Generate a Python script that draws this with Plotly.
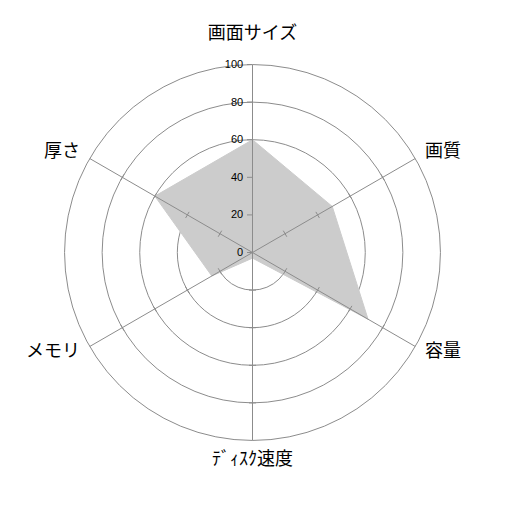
import plotly.graph_objects as go

# categories (clockwise from top) and scores
categories = ["画面サイズ", "画質", "容量", "ﾃﾞｨｽｸ速度", "メモリ", "厚さ"]
scores = [60, 49, 71, 3, 25, 60]
radial_ticks = [0, 20, 40, 60, 80, 100]
spoke_ticks = [20, 40, 60, 80]
label_r = [111, 106, 106, 106, 106, 106]
label_pos = ["top center", "middle right", "middle right",
             "bottom center", "middle left", "middle left"]

fig = go.Figure()

# filled polygon
fig.add_trace(go.Scatterpolar(
    r=scores + scores[:1], theta=categories + categories[:1],
    mode="lines", fill="toself", fillcolor="#cccccc",
    line=dict(color="#cccccc", width=1), hoverinfo="skip", showlegend=False))

# spokes drawn above the fill, with small ticks
for i, cat in enumerate(categories):
    fig.add_trace(go.Scatterpolar(
        r=[0, 100], theta=[cat, cat], mode="lines",
        line=dict(color="#8c8c8c", width=1), hoverinfo="skip", showlegend=False))
    if i == 0:
        continue
    fig.add_trace(go.Scatterpolar(
        r=spoke_ticks, theta=[cat] * len(spoke_ticks), mode="markers",
        marker=dict(symbol="line-ns", size=5, angle=i * 60 + 90,
                    line=dict(color="#8c8c8c", width=1)),
        hoverinfo="skip", showlegend=False))

# category labels just outside the outer ring
fig.add_trace(go.Scatterpolar(
    r=label_r, theta=categories, mode="text",
    text=categories, textposition=label_pos, cliponaxis=False,
    textfont=dict(family="Noto Sans CJK JP", size=18, color="black"),
    hoverinfo="skip", showlegend=False))

fig.update_layout(
    width=506, height=506,
    margin=dict(l=34, r=51, t=34, b=51),
    paper_bgcolor="white",
    font=dict(family="Noto Sans CJK JP", color="black"),
    polar=dict(
        bgcolor="white",
        radialaxis=dict(
            range=[0, 112], tickvals=radial_ticks, angle=90, tickangle=90,
            side="counterclockwise", showline=False,
            ticks="outside", ticklen=5, tickcolor="#8c8c8c",
            showgrid=True, gridcolor="#8c8c8c", gridwidth=1,
            tickfont=dict(family="Liberation Sans", size=11, color="black"),
            layer="above traces"),
        angularaxis=dict(
            direction="clockwise", rotation=90,
            categoryorder="array", categoryarray=categories,
            showline=False, showgrid=False, ticks="", showticklabels=False),
    ),
)

fig.write_html("out.html")
